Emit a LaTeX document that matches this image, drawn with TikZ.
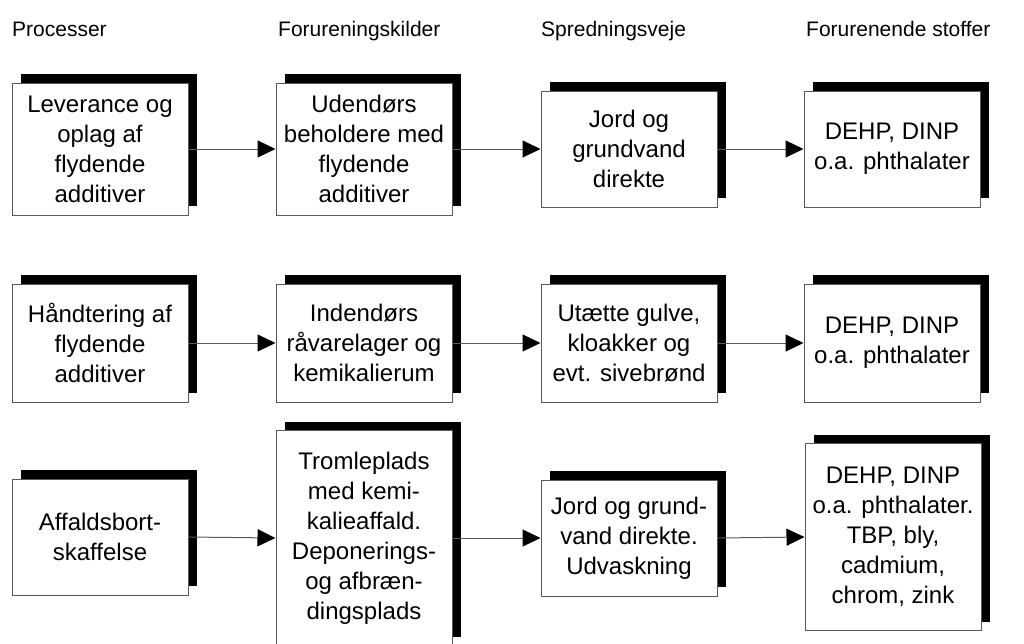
\documentclass[tikz,border=0pt]{standalone}
\usepackage{fontspec}
\setmainfont{Liberation Sans}
\usetikzlibrary{shadows,arrows.meta}

\begin{document}
\begin{tikzpicture}[x=1pt,y=-1pt,
  stepbox/.style={draw=black!65, line width=1pt, fill=white, inner sep=0pt,
    minimum width=176pt, align=center,
    font=\fontsize{24}{30}\selectfont,
    drop shadow={shadow xshift=9pt, shadow yshift=9pt, fill=black, opacity=1}},
  header/.style={anchor=base west, inner sep=0pt, font=\fontsize{21}{25}\selectfont},
  flow/.style={draw=black!65, line width=1pt,
    -{Triangle[length=18pt,width=17pt,fill=black,color=black]}}
]
\useasboundingbox (0,0) rectangle (1024,643);

% column headings
\node[header] (h1) at (12,36)  {Processer};
\node[header] (h2) at (278,36) {Forureningskilder};
\node[header] (h3) at (541,36) {Spredningsveje};
\node[header] (h4) at (806,36) {Forurenende stoffer};

% row 1
\node[stepbox, minimum height=132pt] (a1) at (100,149) {Leverance og\\oplag af\\flydende\\additiver};
\node[stepbox, minimum height=132pt] (a2) at (364,149) {Udendørs\\beholdere med\\flydende\\additiver};
\node[stepbox, minimum height=116pt] (a3) at (629,149) {Jord og\\grundvand\\direkte};
\node[stepbox, minimum height=116pt] (a4) at (892,149) {DEHP, DINP\\o.a. phthalater};

% row 2
\node[stepbox, minimum height=118pt] (b1) at (100,343) {Håndtering af\\flydende\\additiver};
\node[stepbox, minimum height=118pt] (b2) at (364,343) {Indendørs\\råvarelager og\\kemikalierum};
\node[stepbox, minimum height=118pt] (b3) at (629,343) {Utætte gulve,\\kloakker og\\evt. sivebrønd};
\node[stepbox, minimum height=118pt] (b4) at (892,343) {DEHP, DINP\\o.a. phthalater};

% row 3
\node[stepbox, minimum height=116pt] (c1) at (100,537) {Affaldsbort-\\skaffelse};
\node[stepbox, minimum height=215pt] (c2) at (364,538) {Tromleplads\\med kemi-\\kalieaffald.\\Deponerings-\\og afbræn-\\dingsplads};
\node[stepbox, minimum height=116pt] (c3) at (629,538) {Jord og grund-\\vand direkte.\\Udvaskning};
\node[stepbox, minimum height=187pt] (c4) at (893,537) {DEHP, DINP\\o.a. phthalater.\\TBP, bly,\\cadmium,\\chrom, zink};

% connectors
\foreach \r in {a,b,c}{
  \draw[flow] (\r1.east) -- (\r2.west);
  \draw[flow] (\r2.east) -- (\r3.west);
  \draw[flow] (\r3.east) -- (\r4.west);
}
\end{tikzpicture}
\end{document}
